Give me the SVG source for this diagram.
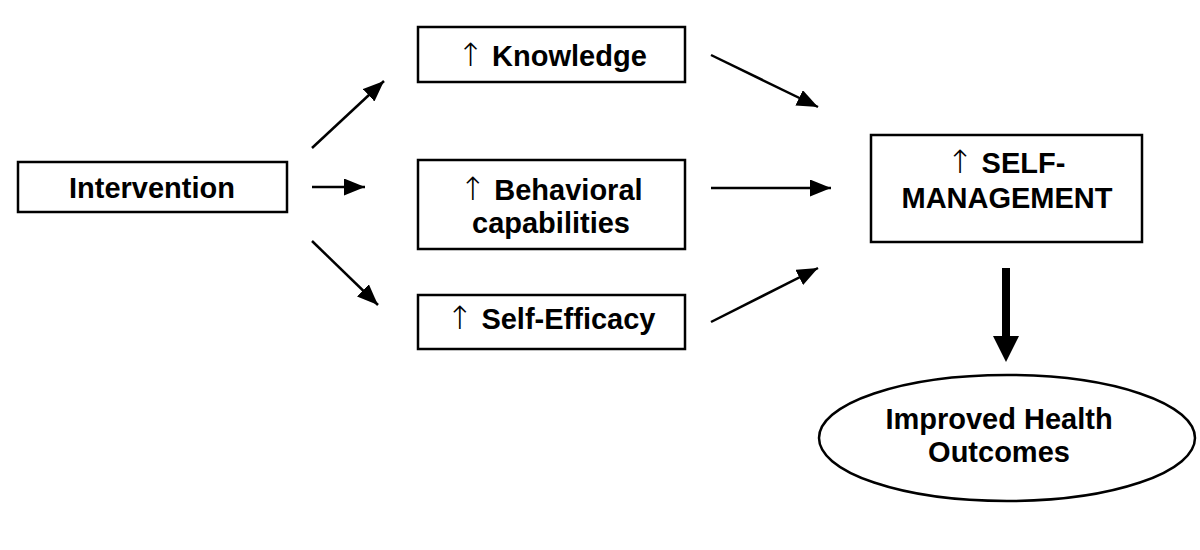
<svg xmlns="http://www.w3.org/2000/svg" width="1200" height="550" viewBox="0 0 1200 550">
<style>
.box{fill:#fff;stroke:#000;stroke-width:2.5}
.t{font-family:"Liberation Sans",Arial,sans-serif;font-weight:bold;font-size:29px;fill:#000;text-anchor:middle}
.up{font-family:"DejaVu Sans",sans-serif;font-weight:200;font-size:32px;fill:#000}
.c{stroke:#000;stroke-width:2.5;fill:none}
</style>
<defs>
<marker id="a" viewBox="0 0 21 17" refX="21" refY="8.5" markerWidth="21" markerHeight="17" orient="auto" markerUnits="userSpaceOnUse">
<path d="M0,0 L21,8.5 L0,17 Z" fill="#000"/>
</marker>
</defs>
<g id="intervention"><rect class="box" x="18" y="162" width="269" height="50"/><text class="t" x="152" y="198">Intervention</text></g>
<g id="knowledge"><rect class="box" x="418" y="27" width="267" height="55"/><text class="t" x="552" y="66"><tspan class="up">↑</tspan> Knowledge</text></g>
<g id="behavioral"><rect class="box" x="418" y="160" width="267" height="89"/><text class="t" x="551" y="200"><tspan class="up">↑</tspan> Behavioral</text><text class="t" x="551" y="233">capabilities</text></g>
<g id="selfefficacy"><rect class="box" x="418" y="295" width="267" height="54"/><text class="t" x="551" y="329"><tspan class="up">↑</tspan> Self-Efficacy</text></g>
<g id="selfmanagement"><rect class="box" x="871" y="135" width="271" height="107"/><text class="t" x="1006" y="173"><tspan class="up">↑</tspan> SELF-</text><text class="t" x="1007" y="208">MANAGEMENT</text></g>
<g id="outcomes"><ellipse class="box" cx="1007" cy="438" rx="188" ry="63"/><text class="t" x="999" y="429">Improved Health</text><text class="t" x="999" y="462">Outcomes</text></g>
<g id="connectors">
<line class="c" x1="312" y1="148" x2="384" y2="81" marker-end="url(#a)"/>
<line class="c" x1="312" y1="187" x2="365" y2="187" marker-end="url(#a)"/>
<line class="c" x1="312" y1="241" x2="378" y2="305" marker-end="url(#a)"/>
<line class="c" x1="711" y1="55" x2="818" y2="107" marker-end="url(#a)"/>
<line class="c" x1="711" y1="188" x2="831" y2="188" marker-end="url(#a)"/>
<line class="c" x1="711" y1="322" x2="818" y2="268" marker-end="url(#a)"/>
<path d="M1002,268 L1010,268 L1010,336 L1019,336 L1006,362 L993,336 L1002,336 Z" fill="#000"/>
</g>
</svg>
